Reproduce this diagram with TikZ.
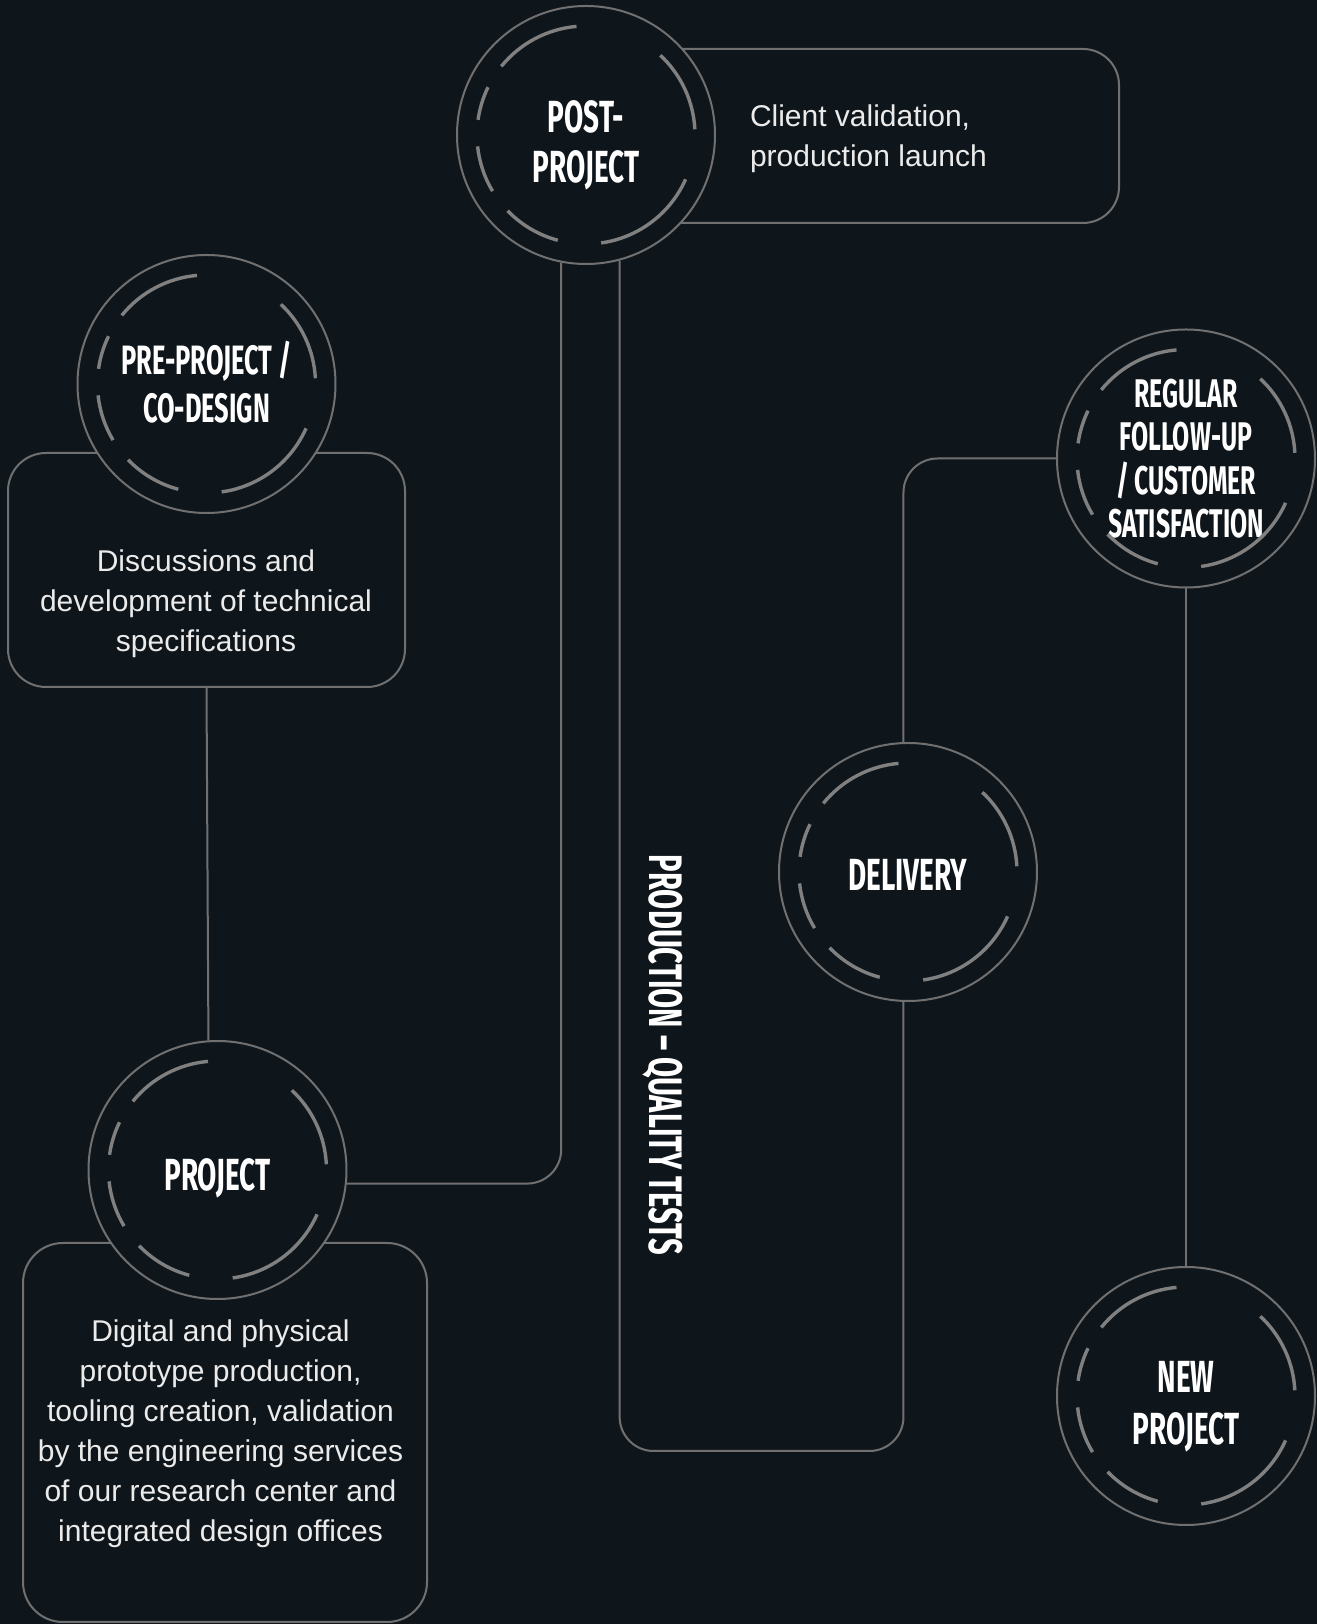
\documentclass[tikz,border=0pt]{standalone}
\usepackage{fontspec}
\setmainfont{Liberation Sans}
\newfontfamily\headfont{Fira Sans}[FakeStretch=0.62]
\usetikzlibrary{calc}
\definecolor{bg}{RGB}{15,22,27}
\definecolor{linegray}{RGB}{112,112,112}
\definecolor{arcgray}{RGB}{128,128,128}

\begin{document}
\begin{tikzpicture}[x = 0.5pt, y = 0.5pt, % one unit is one pixel of the sketch
        line width = 1pt % line style
    ]

    \tikzstyle{stage}=[circle, draw = linegray, fill = bg, minimum size = 129pt,
    inner sep = 0pt]
    \tikzstyle{head}=[text = white, align = center, inner sep = 0pt,
    font = \headfont\bfseries\fontsize{22.5}{25}\selectfont]
    \tikzstyle{infobox}=[draw = linegray, rounded corners = 19pt, inner sep = 0pt]
    \tikzstyle{infotext}=[text = white!92!black, align = center, inner sep = 0pt,
    font = \fontsize{15}{20}\selectfont]
    \tikzstyle{ring}=[draw = arcgray, line width = 1.7pt]
    \tikzstyle{link}=[draw = linegray, rounded corners = 17pt]

    \fill[bg] (0,0) rectangle (1317,1624);
    \useasboundingbox (0,0) rectangle (1317,1624);

    % boxes first, the circles sit on top of them
    \node (prebox) [infobox, minimum width = 198.5pt, minimum height = 117pt] at (206.5,1054) {};
    \node (postbox) [infobox, minimum width = 266.5pt, minimum height = 87pt,
        rounded corners = 18pt] at (852.5,1488) {};
    \node (projbox) [infobox, minimum width = 202pt, minimum height = 189.5pt,
        rounded corners = 20pt] at (225,191.5) {};

    \node (pretxt) [infotext] at (206,1020) {Discussions and\\development of technical\\specifications};
    \node (posttxt) [infotext, align = left, anchor = west] at (749,1485) {Client validation,\\production launch};
    \node (projtxt) [infotext] at (220.5,190) {Digital and physical\\prototype production,\\tooling creation, validation\\by the engineering services\\of our research center and\\integrated design offices};

    % the stages
    \node (pre) [stage] at (206.5,1240) {};
    \node (post) [stage] at (586,1489) {};
    \node (proj) [stage] at (217.5,454) {};
    \node (deliv) [stage] at (908,752) {};
    \node (follow) [stage] at (1186,1165.5) {};
    \node (new) [stage] at (1186,228) {};

    \node (prehead) [head, font = \headfont\bfseries\fontsize{20.5}{24}\selectfont]
        at ($(pre)+(0,2)$) {PRE-PROJECT /\\CO-DESIGN};
    \node (posthead) [head] at ($(post)+(0,-10)$) {POST-\\PROJECT};
    \node (projhead) [head] at ($(proj)+(0,-8)$) {PROJECT};
    \node (delivhead) [head] at ($(deliv)+(0,-3)$) {DELIVERY};
    \node (followhead) [head, font = \headfont\bfseries\fontsize{20}{21.7}\selectfont]
        at (follow) {REGULAR\\FOLLOW-UP\\/ CUSTOMER\\SATISFACTION};
    \node (newhead) [head, font = \headfont\bfseries\fontsize{22.5}{26}\selectfont]
        at ($(new)+(0,-11)$) {NEW\\PROJECT};

    % dashed inner rings
    \foreach \s in {pre, post, proj, deliv, follow, new}
        \foreach \a/\b in {3/47, 95/141, 154/172, 186/211, 224/255, 278/336}
            \draw[ring] (\s.center) ++(\a:54.5pt) arc[start angle = \a, end angle = \b, radius = 54.5pt];

    % connectors
    \coordinate (base) at (760,173);
    \path[link] (prebox.south) edge (proj.94.9);
    \draw[link] (proj.-6.7) -| (post.-101);
    \draw[link] (post.-75.6) |- (base) -| (deliv.-92.7);
    \draw[link] (deliv.92.2) |- (follow.west);
    \draw[link] (follow.south) -- (new.north);

    \node (tests) [head, rotate = -90,
        font = \headfont\bfseries\fontsize{23.5}{27}\selectfont] at (663,569) {PRODUCTION – QUALITY TESTS};
\end{tikzpicture}
\end{document}
